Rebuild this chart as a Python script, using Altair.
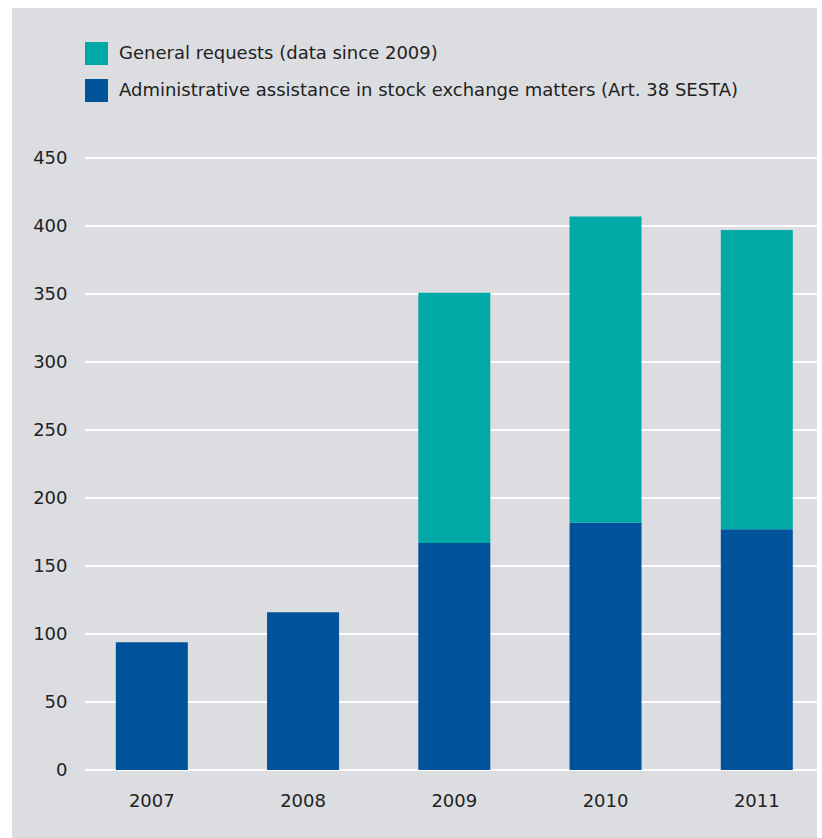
import altair as alt
import pandas as pd

years = ["2007", "2008", "2009", "2010", "2011"]
admin = [94, 116, 167, 182, 177]
general = [None, None, 184, 225, 220]
series_names = ["General requests (data since 2009)",
                "Administrative assistance in stock exchange matters (Art. 38 SESTA)"]
series_colors = ["#00a9a6", "#00529b"]
y_ticks = [0, 50, 100, 150, 200, 250, 300, 350, 400, 450]

rows = []
for i, y in enumerate(years):
    rows.append({"year": y, "series": series_names[1], "value": admin[i], "ord": 0})
    if general[i] is not None:
        rows.append({"year": y, "series": series_names[0], "value": general[i], "ord": 1})
df = pd.DataFrame(rows)
grid_df = pd.DataFrame({"value": y_ticks})

FONT = "DejaVu Sans"
W, H = 732, 612
yscale = alt.Scale(domain=[0, 450], nice=False)
yaxis = alt.Axis(values=y_ticks, domain=False, ticks=False, labelPadding=18,
                 labelFontSize=18, labelColor="#222222", labelFont=FONT,
                 grid=False, zindex=1)

bg = alt.Chart(pd.DataFrame({"a": [0]})).mark_rect(color="#dcdde0").encode(
    x=alt.value(-73), x2=alt.value(W), y=alt.value(-150), y2=alt.value(H + 80)
)

grid = alt.Chart(grid_df).mark_rule(color="white", strokeWidth=2.2).encode(
    y=alt.Y("value:Q", scale=yscale, title=None, axis=yaxis),
    x=alt.value(0), x2=alt.value(W),
)

bars = alt.Chart(df).mark_bar().encode(
    x=alt.X("year:N", sort=years, title=None,
            scale=alt.Scale(paddingInner=0.524, paddingOuter=0.182, align=0.56),
            axis=alt.Axis(labelAngle=0, domain=False, ticks=False, labelPadding=22,
                          labelFontSize=18, labelColor="#222222", labelFont=FONT, grid=False,
                          zindex=1)),
    y=alt.Y("value:Q", stack="zero", title=None, scale=yscale, axis=yaxis),
    color=alt.Color("series:N", sort=series_names,
                    scale=alt.Scale(domain=series_names, range=series_colors),
                    legend=alt.Legend(title=None, orient="none", legendX=0, legendY=-116,
                                      symbolType="square", symbolSize=529, symbolStrokeWidth=0,
                                      labelFontSize=18, labelFont=FONT, labelColor="#222222",
                                      rowPadding=14, labelOffset=11, padding=0,
                                      labelLimit=800)),
    order=alt.Order("ord:Q"),
)

chart = alt.layer(bg, grid, bars).properties(
    width=W, height=H,
    autosize=alt.AutoSizeParams(type="none"),
    padding={"left": 85, "top": 158, "right": 5, "bottom": 68},
    background="white",
).configure_view(stroke=None, fill="#dcdde0")

chart.save("out.html", embed_options={"renderer": "svg", "actions": False})
